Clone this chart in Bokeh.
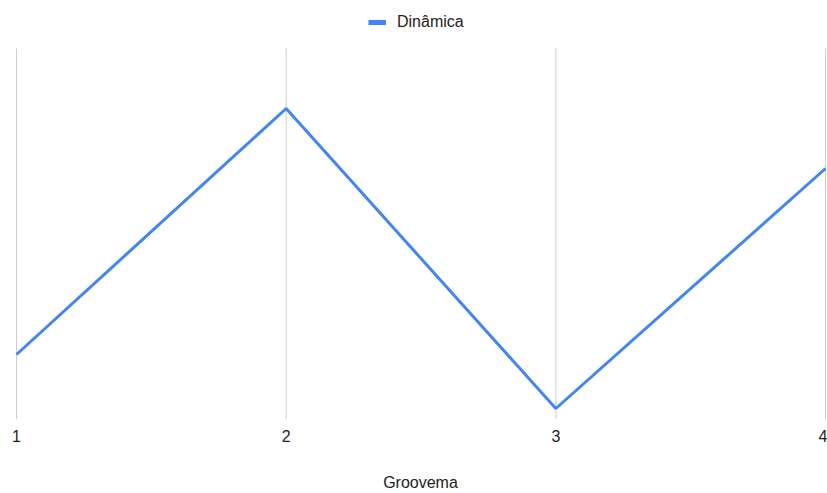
from bokeh.plotting import figure
from bokeh.models import ColumnDataSource, Legend, LegendItem, FixedTicker, Range1d
from bokeh.embed import file_html
from bokeh.resources import INLINE

# data
groovema = [1, 2, 3, 4]
dinamica = [1.9, 6.0, 1.0, 5.0]
tick_labels = ["1", "2", "3", "4"]

FONT = "Liberation Sans"
BLUE = "#4285F4"

Y0, Y1, YTOP = 0.8167, 7.0, 7.8

p = figure(width=827, height=493, output_backend="svg", toolbar_location=None,
           x_range=Range1d(0.99257, 4.00371), y_range=Range1d(Y0, YTOP),
           min_border_left=14, min_border_right=1, min_border_top=0, min_border_bottom=0)
p.outline_line_color = None
p.background_fill_color = "white"
p.border_fill_color = "white"

# vertical grid lines at category positions
p.segment(x0=groovema, y0=[Y0] * len(groovema), x1=groovema, y1=[Y1] * len(groovema),
          line_color="#cccccc", line_width=1)

src = ColumnDataSource(dict(x=groovema, y=dinamica))
r = p.line("x", "y", source=src, line_color=BLUE, line_width=3)
dummy = p.line(x=[0], y=[0], line_color=BLUE, line_width=5)

p.yaxis.visible = False
p.ygrid.grid_line_color = None
p.xgrid.grid_line_color = None

ax = p.xaxis[0]
ax.ticker = FixedTicker(ticks=groovema)
ax.major_label_overrides = {g: t for g, t in zip(groovema, tick_labels)}
ax.axis_line_color = None
ax.major_tick_line_color = None
ax.minor_tick_line_color = None
ax.major_label_standoff = 4
ax.major_label_text_font = FONT
ax.major_label_text_font_size = "16px"
ax.major_label_text_color = "#222222"
ax.axis_label = "Groovema"
ax.axis_label_text_font = FONT
ax.axis_label_text_font_style = "normal"
ax.axis_label_text_font_size = "16px"
ax.axis_label_text_color = "#222222"
ax.axis_label_standoff = 29

legend = Legend(items=[LegendItem(label="Dinâmica", renderers=[dummy])],
                orientation="horizontal", location=(354, 387),
                label_text_font=FONT, label_text_font_size="16px", label_text_color="#222222",
                glyph_width=18, glyph_height=20, label_height=20, label_standoff=11,
                padding=14, margin=0, border_line_color=None, background_fill_alpha=0)
p.add_layout(legend, "center")

open("out.html", "w").write(file_html(p, INLINE))
